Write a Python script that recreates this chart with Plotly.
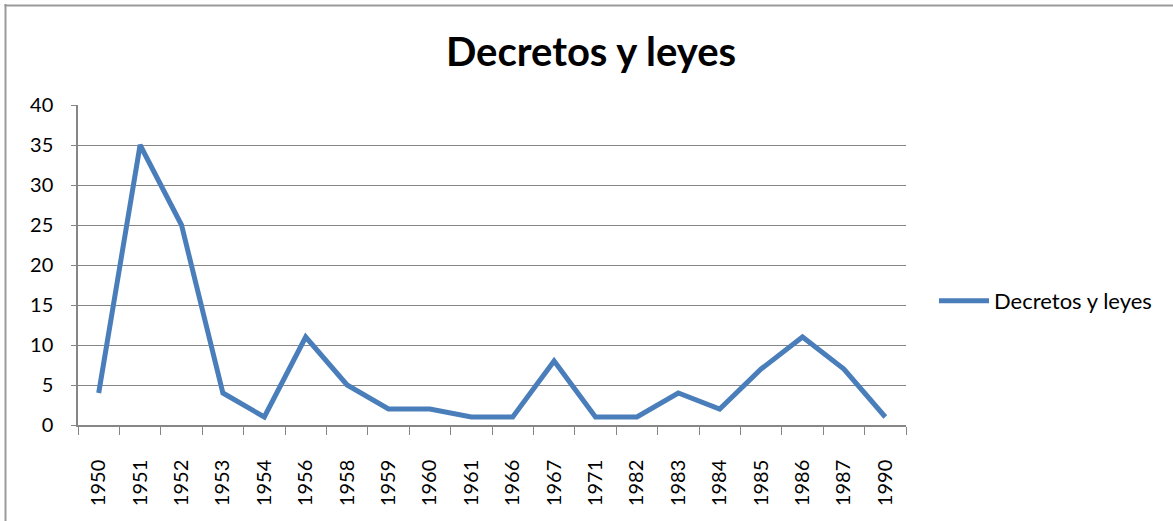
import plotly.graph_objects as go

years = ["1950", "1951", "1952", "1953", "1954", "1956", "1958", "1959", "1960", "1961",
         "1966", "1967", "1971", "1982", "1983", "1984", "1985", "1986", "1987", "1990"]
values = [4, 35, 25, 4, 1, 11, 5, 2, 2, 1, 1, 8, 1, 1, 4, 2, 7, 11, 7, 1]
series_name = "Decretos y leyes"
title_text = "Decretos y leyes"

fig = go.Figure()
fig.add_trace(go.Scatter(
    x=years, y=values, mode="lines", name=series_name,
    line=dict(color="#4A7EBB", width=5),
))

L, R, T, B = 78, 1173 - 906, 105, 521 - 425
W, H = 1173 - L - R, 521 - T - B
FONT = "Lato, Liberation Sans, sans-serif"

fig.update_layout(
    width=1173, height=521,
    margin=dict(l=L, r=R, t=T, b=B),
    paper_bgcolor="white", plot_bgcolor="white",
    font=dict(family=FONT, size=20, color="black"),
    title=dict(text="<b>" + title_text + "</b>", x=591 / 1173, xanchor="center",
               y=1 - 52 / 521, yanchor="middle",
               font=dict(size=40, family=FONT)),
    showlegend=True,
    legend=dict(x=(934 - L) / W, xanchor="left", y=(425 - 301) / H, yanchor="middle",
                font=dict(size=22), bgcolor="rgba(0,0,0,0)", itemwidth=50),
    xaxis=dict(type="category", tickangle=-90, showgrid=False, showline=True,
               linecolor="#868686", linewidth=1.5, ticks="outside", ticklen=8,
               tickcolor="#868686", tickson="boundaries", range=[-0.5, 19.5],
               tickfont=dict(size=20), ticklabelstandoff=25, fixedrange=True),
    yaxis=dict(range=[0, 40], dtick=5, showgrid=True, gridcolor="#868686", gridwidth=1.2,
               showline=True, linecolor="#868686", linewidth=1.5, ticks="outside",
               ticklen=5, tickcolor="#868686", zeroline=False, tickfont=dict(size=20),
               ticklabelstandoff=14, fixedrange=True),
    shapes=[
        dict(type="line", xref="paper", yref="paper",
             x0=(5.5 - L) / W, x1=(5.5 - L) / W, y0=(425 - 4) / H, y1=(425 - 530) / H,
             line=dict(color="#9A9A9A", width=2)),
        dict(type="line", xref="paper", yref="paper",
             x0=(4.5 - L) / W, x1=(1180 - L) / W, y0=(425 - 5.5) / H, y1=(425 - 5.5) / H,
             line=dict(color="#9A9A9A", width=2)),
    ],
)

fig.write_html("out.html", config={"displayModeBar": False},
               post_script="document.body.style.margin='0';")
